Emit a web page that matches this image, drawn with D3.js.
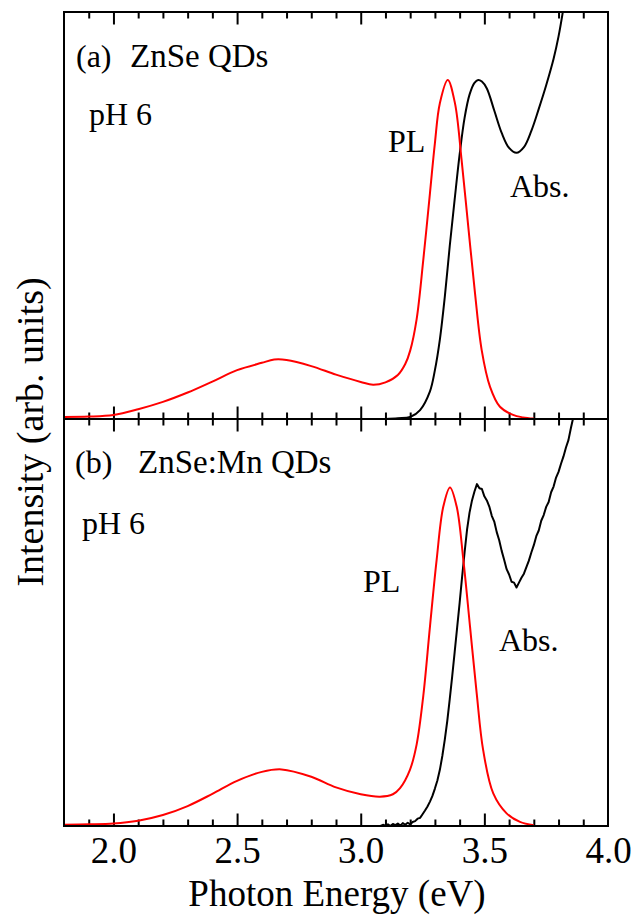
<!DOCTYPE html>
<html>
<head>
<meta charset="utf-8">
<script src="https://cdn.jsdelivr.net/npm/d3@7"></script>
<style>
  html, body { margin: 0; padding: 0; background: #fff; }
  svg { display: block; }
  text { font-family: "Liberation Serif", "Times New Roman", Times, serif; fill: #000; }
</style>
</head>
<body>
<svg id="chart" width="636" height="923"></svg>
<script>
const SERIF = '"Liberation Serif", "Times New Roman", Times, serif';

// Photon energy axis ticks (eV)
const majorTicks = [2.0, 2.5, 3.0, 3.5];
const tickLabels = ["2.0", "2.5", "3.0", "3.5", "4.0"];
const tickLabelValues = [2.0, 2.5, 3.0, 3.5, 4.0];

// (a) ZnSe QDs, pH 6 — photoluminescence
const plA_E = [1.80, 1.90, 2.00, 2.10, 2.20, 2.30, 2.40, 2.50, 2.60, 2.65, 2.70, 2.80, 2.90, 3.00, 3.05, 3.10,
               3.15, 3.18, 3.20, 3.226, 3.253, 3.28, 3.30, 3.32, 3.352, 3.381, 3.408, 3.435, 3.462, 3.489, 3.523,
               3.563, 3.616, 3.656, 3.70];
const plA_I = [0.005, 0.006, 0.010, 0.024, 0.042, 0.065, 0.092, 0.120, 0.138, 0.146, 0.145, 0.130, 0.109, 0.091, 0.084, 0.090,
               0.108, 0.135, 0.168, 0.245, 0.391, 0.555, 0.678, 0.776, 0.833, 0.776, 0.636, 0.472, 0.310, 0.170, 0.079,
               0.030, 0.010, 0.004, 0.001];

// (a) ZnSe QDs — absorption
const absA_E = [3.10, 3.15, 3.20, 3.24, 3.28, 3.30, 3.32, 3.34, 3.36, 3.38, 3.40, 3.42, 3.44, 3.46, 3.475, 3.49,
                3.51, 3.54, 3.57, 3.60, 3.63, 3.66, 3.69, 3.72, 3.75, 3.78, 3.80, 3.82];
const absA_I = [0.000, 0.002, 0.005, 0.022, 0.068, 0.120, 0.195, 0.300, 0.425, 0.540, 0.650, 0.740, 0.797, 0.826, 0.833, 0.829,
                0.812, 0.758, 0.703, 0.666, 0.654, 0.668, 0.708, 0.762, 0.820, 0.885, 0.940, 1.010];

// (b) ZnSe:Mn QDs, pH 6 — photoluminescence
const plB_E = [1.80, 1.90, 2.00, 2.10, 2.20, 2.30, 2.40, 2.50, 2.60, 2.68, 2.80, 2.90, 3.00, 3.078, 3.13, 3.159,
               3.199, 3.226, 3.253, 3.28, 3.307, 3.334, 3.361, 3.388, 3.415, 3.442, 3.469, 3.495, 3.536, 3.59,
               3.644, 3.70];
const plB_I = [0.003, 0.004, 0.006, 0.013, 0.027, 0.049, 0.079, 0.111, 0.133, 0.139, 0.121, 0.095, 0.078, 0.072, 0.078, 0.093,
               0.138, 0.200, 0.320, 0.490, 0.654, 0.785, 0.832, 0.785, 0.654, 0.490, 0.326, 0.187, 0.080, 0.031,
               0.010, 0.002];

// (b) ZnSe:Mn QDs — absorption (measured, noisy trace)
const absB_E = [3.08, 3.09, 3.10, 3.11, 3.12, 3.13, 3.14, 3.15, 3.16, 3.17, 3.18, 3.19, 3.20, 3.21, 3.22, 3.23,
                3.24, 3.25, 3.26, 3.27, 3.28, 3.29, 3.30, 3.31, 3.32, 3.33, 3.34, 3.35, 3.36, 3.37, 3.38, 3.39,
                3.40, 3.41, 3.42, 3.43, 3.44, 3.45, 3.46, 3.47, 3.48, 3.49, 3.50, 3.51, 3.52, 3.53, 3.54, 3.55,
                3.56, 3.57, 3.58, 3.59, 3.60, 3.61, 3.62, 3.63, 3.64, 3.65, 3.66, 3.67, 3.68, 3.69, 3.70, 3.71,
                3.72, 3.73, 3.74, 3.75, 3.76, 3.77, 3.78, 3.79, 3.80, 3.81, 3.82, 3.83, 3.84, 3.85, 3.86];
const absB_I = [0.000, 0.003, 0.001, 0.004, 0.000, 0.005, 0.002, 0.006, 0.001, 0.007, 0.003, 0.008, 0.004, 0.010, 0.012, 0.018,
                0.020, 0.029, 0.038, 0.048, 0.060, 0.074, 0.092, 0.112, 0.138, 0.172, 0.212, 0.258, 0.312, 0.368, 0.428, 0.488,
                0.548, 0.612, 0.672, 0.728, 0.770, 0.800, 0.822, 0.840, 0.830, 0.828, 0.810, 0.800, 0.785, 0.762, 0.748, 0.722,
                0.702, 0.676, 0.654, 0.631, 0.618, 0.600, 0.598, 0.586, 0.598, 0.610, 0.620, 0.636, 0.652, 0.672, 0.690, 0.712,
                0.726, 0.750, 0.764, 0.784, 0.796, 0.820, 0.834, 0.856, 0.870, 0.890, 0.908, 0.930, 0.948, 0.978, 1.005];

const svg = d3.select("#chart");
const X0 = 64, X1 = 608;
const TOP = 12, MID = 419, BOT = 826;

const x = d3.scaleLinear().domain([1.8, 4.0]).range([X0, X1]);
const yA = d3.scaleLinear().domain([0, 1]).range([MID, TOP]);
const yB = d3.scaleLinear().domain([0, 1]).range([BOT, MID]);

const allTicks = d3.range(19, 40).map(d => d / 10);
const minorTicks = allTicks.filter(t => !majorTicks.some(m => Math.abs(m - t) < 1e-6));
const MAJ = 12.5, MIN = 6.5;

// clip regions for each panel
const defs = svg.append("defs");
defs.append("clipPath").attr("id", "clipA").append("rect")
  .attr("x", X0).attr("y", TOP).attr("width", X1 - X0).attr("height", MID - TOP);
defs.append("clipPath").attr("id", "clipB").append("rect")
  .attr("x", X0).attr("y", MID).attr("width", X1 - X0).attr("height", BOT - MID);

function drawTicks(axisFn, yPos, size, values) {
  const g = svg.append("g").attr("transform", `translate(0,${yPos})`)
    .call(axisFn(x).tickValues(values).tickSizeInner(size).tickSizeOuter(0).tickFormat(""));
  g.select(".domain").remove();
  g.selectAll(".tick line").attr("stroke", "#000").attr("stroke-width", 2);
  return g;
}

// top of panel (a): ticks point down
drawTicks(d3.axisBottom, TOP, MAJ, majorTicks);
drawTicks(d3.axisBottom, TOP, MIN, minorTicks);
// shared divider: panel (a) ticks up, panel (b) ticks down
drawTicks(d3.axisTop, MID, MAJ, majorTicks);
drawTicks(d3.axisTop, MID, MIN, minorTicks);
drawTicks(d3.axisBottom, MID, MAJ, majorTicks);
drawTicks(d3.axisBottom, MID, MIN, minorTicks);
// bottom of panel (b): ticks point up
drawTicks(d3.axisTop, BOT, MAJ, majorTicks);
drawTicks(d3.axisTop, BOT, MIN, minorTicks);

// bottom tick labels
const labelAxis = svg.append("g").attr("transform", `translate(0,${BOT})`)
  .call(d3.axisBottom(x).tickValues(tickLabelValues).tickSize(0).tickPadding(11)
    .tickFormat((d, i) => tickLabels[i]));
labelAxis.attr("font-family", SERIF).attr("font-size", 37);
labelAxis.select(".domain").remove();
labelAxis.selectAll("text")
  .style("font-family", SERIF)
  .style("font-size", "37px").attr("fill", "#000");

function curve(E, I, yScale, color, clip, shape) {
  const pts = E.map((e, i) => [e, I[i]]);
  svg.append("path")
    .datum(pts)
    .attr("clip-path", `url(#${clip})`)
    .attr("fill", "none")
    .attr("stroke", color)
    .attr("stroke-width", 2)
    .attr("stroke-linejoin", "round")
    .attr("d", d3.line().x(d => x(d[0])).y(d => yScale(d[1])).curve(shape));
}

curve(absA_E, absA_I, yA, "#000", "clipA", d3.curveCatmullRom.alpha(0.5));
curve(plA_E, plA_I, yA, "#ff0000", "clipA", d3.curveCatmullRom.alpha(0.5));
curve(absB_E, absB_I, yB, "#000", "clipB", d3.curveLinear);
curve(plB_E, plB_I, yB, "#ff0000", "clipB", d3.curveCatmullRom.alpha(0.5));

// frame and divider
svg.append("rect").attr("x", X0).attr("y", TOP).attr("width", X1 - X0).attr("height", BOT - TOP)
  .attr("fill", "none").attr("stroke", "#000").attr("stroke-width", 2);
svg.append("line").attr("x1", X0).attr("x2", X1).attr("y1", MID).attr("y2", MID)
  .attr("stroke", "#000").attr("stroke-width", 2);

// annotations
function label(txt, px, py, size) {
  svg.append("text").attr("x", px).attr("y", py)
    .style("font-family", SERIF).style("font-size", size + "px").text(txt);
}
label("(a)", 76, 67, 32);
label("ZnSe QDs", 130, 67, 33);
label("pH 6", 89, 125, 32);
label("PL", 388, 152, 32);
label("Abs.", 510, 197, 32);

label("(b)", 75, 473, 32);
label("ZnSe:Mn QDs", 138, 473, 33);
label("pH 6", 82, 534, 32);
label("PL", 363, 592, 32);
label("Abs.", 499, 651, 32);

// axis titles
svg.append("text").attr("x", 337).attr("y", 906).attr("text-anchor", "middle")
  .style("font-family", SERIF).style("font-size", "37px").text("Photon Energy (eV)");
svg.append("text").attr("transform", `translate(43,432) rotate(-90)`).attr("text-anchor", "middle")
  .style("font-family", SERIF).style("font-size", "38px").text("Intensity (arb. units)");
</script>
</body>
</html>
